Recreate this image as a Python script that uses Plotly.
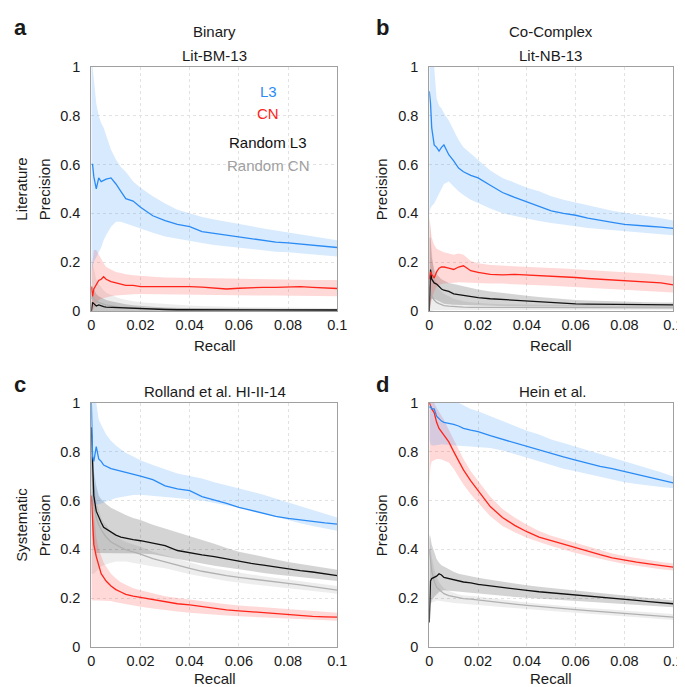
import plotly.graph_objects as go

# ---------------- data ----------------
RECALL = [0, 0.0005, 0.001, 0.002, 0.003, 0.004, 0.005, 0.006, 0.008, 0.01,
          0.012, 0.014, 0.017, 0.02, 0.025, 0.03, 0.035, 0.04, 0.045, 0.05,
          0.055, 0.06, 0.065, 0.07, 0.075, 0.08, 0.085, 0.09, 0.095, 0.1]

X_TICKS = [0, 0.02, 0.04, 0.06, 0.08, 0.1]
X_TICK_LABELS = ["0", "0.02", "0.04", "0.06", "0.08", "0.1"]
Y_TICKS = [0, 0.2, 0.4, 0.6, 0.8, 1.0]
Y_TICK_LABELS = ["0", "0.2", "0.4", "0.6", "0.8", "1"]

SERIES_NAMES = ["L3", "CN", "Random L3", "Random CN"]

# Panel a : Binary / Lit-BM-13
A_L3 = [0.60, 0.60, 0.55, 0.50, 0.545, 0.53, 0.535, 0.54, 0.545, 0.52, 0.49, 0.46, 0.45, 0.425, 0.39, 0.37, 0.355, 0.345, 0.325, 0.318, 0.312, 0.302, 0.295, 0.288, 0.282, 0.279, 0.275, 0.27, 0.265, 0.26]
A_L3_HI = [1.0, 1.0, 0.95, 0.85, 0.80, 0.77, 0.75, 0.72, 0.66, 0.62, 0.59, 0.57, 0.53, 0.505, 0.47, 0.44, 0.415, 0.40, 0.385, 0.375, 0.365, 0.356, 0.345, 0.338, 0.33, 0.322, 0.314, 0.305, 0.298, 0.29]
A_L3_LO = [0.15, 0.18, 0.20, 0.22, 0.24, 0.26, 0.29, 0.31, 0.345, 0.365, 0.365, 0.358, 0.348, 0.338, 0.32, 0.305, 0.295, 0.286, 0.278, 0.27, 0.264, 0.257, 0.252, 0.248, 0.243, 0.24, 0.236, 0.232, 0.228, 0.223]
A_CN = [0.10, 0.06, 0.09, 0.11, 0.125, 0.13, 0.14, 0.13, 0.12, 0.115, 0.11, 0.105, 0.105, 0.10, 0.10, 0.10, 0.102, 0.10, 0.098, 0.095, 0.09, 0.093, 0.096, 0.097, 0.097, 0.099, 0.10, 0.097, 0.094, 0.092]
A_CN_HI = [0.15, 0.22, 0.25, 0.25, 0.23, 0.21, 0.195, 0.18, 0.17, 0.16, 0.155, 0.15, 0.146, 0.143, 0.14, 0.137, 0.136, 0.135, 0.133, 0.132, 0.131, 0.13, 0.13, 0.129, 0.129, 0.128, 0.128, 0.127, 0.127, 0.127]
A_CN_LO = [0.0, 0.0, 0.01, 0.03, 0.045, 0.05, 0.055, 0.056, 0.06, 0.063, 0.065, 0.067, 0.068, 0.07, 0.07, 0.07, 0.069, 0.068, 0.067, 0.066, 0.065, 0.064, 0.064, 0.063, 0.063, 0.062, 0.062, 0.061, 0.061, 0.06]
A_RL3 = [0.0, 0.035, 0.03, 0.02, 0.025, 0.02, 0.018, 0.016, 0.015, 0.014, 0.013, 0.012, 0.01, 0.008, 0.007, 0.006, 0.005, 0.005, 0.004, 0.003, 0.004, 0.004, 0.004, 0.004, 0.004, 0.004, 0.004, 0.004, 0.004, 0.004]
A_RL3_HI = [0.10, 0.10, 0.09, 0.07, 0.06, 0.055, 0.05, 0.045, 0.04, 0.035, 0.03, 0.027, 0.023, 0.02, 0.017, 0.014, 0.012, 0.011, 0.01, 0.01, 0.009, 0.009, 0.009, 0.009, 0.008, 0.008, 0.008, 0.008, 0.008, 0.008]
A_RL3_LO = [0.0] * 30
A_RCN = [0.05, 0.06, 0.05, 0.04, 0.035, 0.03, 0.028, 0.025, 0.02, 0.018, 0.016, 0.014, 0.012, 0.011, 0.01, 0.009, 0.008, 0.008, 0.007, 0.007, 0.006, 0.006, 0.006, 0.006, 0.006, 0.005, 0.005, 0.005, 0.005, 0.005]
A_RCN_HI = [0.22, 0.20, 0.17, 0.13, 0.11, 0.095, 0.085, 0.075, 0.065, 0.057, 0.05, 0.045, 0.04, 0.036, 0.032, 0.028, 0.025, 0.022, 0.02, 0.018, 0.017, 0.016, 0.015, 0.015, 0.014, 0.014, 0.013, 0.013, 0.012, 0.012]
A_RCN_LO = [0.0] * 30

# Panel b : Co-Complex / Lit-NB-13
B_L3 = [0.90, 0.85, 0.75, 0.68, 0.67, 0.655, 0.67, 0.68, 0.64, 0.615, 0.585, 0.57, 0.555, 0.545, 0.515, 0.485, 0.465, 0.447, 0.428, 0.41, 0.40, 0.392, 0.38, 0.37, 0.363, 0.355, 0.35, 0.347, 0.343, 0.338]
B_L3_HI = [1.0, 1.0, 1.0, 1.0, 0.87, 0.84, 0.83, 0.81, 0.78, 0.74, 0.70, 0.67, 0.645, 0.62, 0.575, 0.545, 0.525, 0.505, 0.49, 0.47, 0.455, 0.443, 0.432, 0.42, 0.41, 0.402, 0.395, 0.388, 0.38, 0.37]
B_L3_LO = [0.40, 0.42, 0.43, 0.44, 0.46, 0.48, 0.50, 0.52, 0.53, 0.51, 0.49, 0.475, 0.455, 0.44, 0.42, 0.40, 0.39, 0.378, 0.368, 0.36, 0.352, 0.347, 0.34, 0.335, 0.33, 0.326, 0.322, 0.318, 0.314, 0.31]
B_CN = [0.13, 0.16, 0.15, 0.135, 0.16, 0.175, 0.18, 0.18, 0.175, 0.17, 0.18, 0.185, 0.165, 0.158, 0.15, 0.148, 0.15, 0.148, 0.145, 0.142, 0.14, 0.137, 0.133, 0.13, 0.128, 0.126, 0.123, 0.12, 0.115, 0.107]
B_CN_HI = [0.38, 0.33, 0.30, 0.27, 0.255, 0.25, 0.245, 0.24, 0.235, 0.23, 0.235, 0.23, 0.205, 0.195, 0.188, 0.185, 0.183, 0.18, 0.178, 0.176, 0.174, 0.172, 0.168, 0.165, 0.162, 0.16, 0.156, 0.152, 0.148, 0.143]
B_CN_LO = [0.0, 0.02, 0.05, 0.08, 0.10, 0.105, 0.11, 0.112, 0.115, 0.116, 0.118, 0.118, 0.117, 0.116, 0.113, 0.112, 0.11, 0.108, 0.105, 0.103, 0.10, 0.098, 0.095, 0.093, 0.09, 0.088, 0.085, 0.082, 0.079, 0.076]
B_RL3 = [0.0, 0.17, 0.13, 0.115, 0.11, 0.10, 0.09, 0.085, 0.08, 0.07, 0.067, 0.063, 0.06, 0.055, 0.05, 0.047, 0.045, 0.042, 0.038, 0.033, 0.03, 0.029, 0.028, 0.028, 0.027, 0.027, 0.026, 0.026, 0.025, 0.025]
B_RL3_HI = [0.30, 0.30, 0.22, 0.17, 0.15, 0.14, 0.13, 0.125, 0.115, 0.11, 0.105, 0.10, 0.095, 0.088, 0.08, 0.073, 0.067, 0.062, 0.057, 0.052, 0.048, 0.045, 0.043, 0.041, 0.04, 0.038, 0.037, 0.036, 0.035, 0.035]
B_RL3_LO = [0.0, 0.04, 0.05, 0.05, 0.045, 0.04, 0.035, 0.03, 0.028, 0.025, 0.023, 0.023, 0.022, 0.022, 0.021, 0.02, 0.019, 0.018, 0.017, 0.016, 0.016, 0.016, 0.016, 0.015, 0.015, 0.015, 0.015, 0.015, 0.015, 0.015]
B_RCN = [0.10, 0.08, 0.06, 0.045, 0.035, 0.03, 0.025, 0.022, 0.02, 0.018, 0.016, 0.016, 0.015, 0.015, 0.015, 0.015, 0.015, 0.015, 0.014, 0.014, 0.014, 0.014, 0.014, 0.014, 0.013, 0.013, 0.013, 0.013, 0.013, 0.013]
B_RCN_HI = [0.40, 0.35, 0.25, 0.15, 0.11, 0.09, 0.08, 0.07, 0.06, 0.05, 0.045, 0.04, 0.036, 0.033, 0.03, 0.028, 0.027, 0.026, 0.025, 0.024, 0.023, 0.023, 0.022, 0.022, 0.021, 0.021, 0.021, 0.02, 0.02, 0.02]
B_RCN_LO = [0.0, 0.0, 0.0, 0.003, 0.004, 0.005, 0.005, 0.005, 0.005, 0.005, 0.005, 0.005, 0.005, 0.005, 0.005, 0.005, 0.005, 0.005, 0.005, 0.005, 0.005, 0.005, 0.005, 0.005, 0.005, 0.005, 0.005, 0.005, 0.005, 0.005]

# Panel c : Rolland et al. HI-II-14
C_L3 = [1.0, 0.78, 0.76, 0.82, 0.77, 0.76, 0.745, 0.74, 0.73, 0.725, 0.72, 0.716, 0.71, 0.70, 0.685, 0.66, 0.647, 0.64, 0.616, 0.603, 0.588, 0.572, 0.56, 0.547, 0.535, 0.527, 0.52, 0.514, 0.508, 0.503]
C_L3_HI = [1.0, 1.0, 1.0, 1.0, 0.93, 0.91, 0.89, 0.87, 0.845, 0.825, 0.81, 0.795, 0.78, 0.765, 0.745, 0.727, 0.71, 0.70, 0.69, 0.675, 0.663, 0.65, 0.637, 0.623, 0.607, 0.592, 0.575, 0.56, 0.545, 0.53]
C_L3_LO = [0.58, 0.59, 0.59, 0.585, 0.583, 0.588, 0.593, 0.596, 0.603, 0.61, 0.615, 0.618, 0.622, 0.623, 0.62, 0.615, 0.61, 0.605, 0.60, 0.59, 0.58, 0.57, 0.56, 0.547, 0.535, 0.52, 0.507, 0.495, 0.485, 0.476]
C_CN = [0.62, 0.50, 0.42, 0.37, 0.33, 0.30, 0.285, 0.27, 0.25, 0.235, 0.225, 0.215, 0.208, 0.203, 0.195, 0.185, 0.177, 0.172, 0.165, 0.158, 0.152, 0.148, 0.144, 0.14, 0.137, 0.132, 0.128, 0.125, 0.123, 0.122]
C_CN_HI = [0.65, 0.60, 0.52, 0.45, 0.40, 0.37, 0.345, 0.33, 0.30, 0.28, 0.265, 0.255, 0.24, 0.232, 0.22, 0.208, 0.20, 0.193, 0.186, 0.18, 0.175, 0.17, 0.166, 0.162, 0.158, 0.153, 0.15, 0.146, 0.143, 0.14]
C_CN_LO = [0.20, 0.19, 0.19, 0.19, 0.19, 0.19, 0.19, 0.19, 0.188, 0.183, 0.178, 0.175, 0.17, 0.165, 0.158, 0.15, 0.145, 0.14, 0.135, 0.132, 0.129, 0.126, 0.123, 0.12, 0.118, 0.116, 0.113, 0.111, 0.109, 0.107]
C_RL3 = [0.90, 0.70, 0.62, 0.556, 0.53, 0.51, 0.49, 0.483, 0.47, 0.458, 0.45, 0.445, 0.44, 0.435, 0.425, 0.415, 0.395, 0.385, 0.377, 0.37, 0.36, 0.35, 0.342, 0.335, 0.327, 0.32, 0.313, 0.307, 0.30, 0.292]
C_RL3_HI = [0.90, 0.85, 0.72, 0.66, 0.62, 0.605, 0.596, 0.585, 0.57, 0.56, 0.548, 0.54, 0.528, 0.52, 0.50, 0.485, 0.47, 0.455, 0.44, 0.423, 0.405, 0.39, 0.38, 0.368, 0.358, 0.348, 0.34, 0.333, 0.325, 0.316]
C_RL3_LO = [0.60, 0.45, 0.40, 0.385, 0.383, 0.383, 0.383, 0.383, 0.383, 0.383, 0.383, 0.383, 0.383, 0.383, 0.38, 0.37, 0.36, 0.352, 0.342, 0.333, 0.325, 0.318, 0.31, 0.303, 0.297, 0.29, 0.284, 0.279, 0.275, 0.27]
C_RCN = [0.78, 0.65, 0.58, 0.53, 0.50, 0.48, 0.465, 0.45, 0.43, 0.418, 0.408, 0.398, 0.39, 0.38, 0.362, 0.348, 0.334, 0.322, 0.31, 0.30, 0.292, 0.285, 0.278, 0.272, 0.266, 0.26, 0.254, 0.247, 0.24, 0.233]
C_RCN_HI = [0.85, 0.75, 0.68, 0.60, 0.56, 0.53, 0.51, 0.50, 0.47, 0.455, 0.44, 0.43, 0.42, 0.41, 0.39, 0.375, 0.36, 0.345, 0.333, 0.322, 0.313, 0.305, 0.297, 0.29, 0.283, 0.276, 0.27, 0.263, 0.256, 0.25]
C_RCN_LO = [0.30, 0.30, 0.30, 0.31, 0.32, 0.33, 0.335, 0.34, 0.345, 0.35, 0.35, 0.35, 0.345, 0.34, 0.33, 0.322, 0.31, 0.298, 0.288, 0.279, 0.27, 0.263, 0.257, 0.252, 0.246, 0.24, 0.235, 0.23, 0.224, 0.218]

# Panel d : Hein et al.
D_L3 = [0.98, 0.985, 0.975, 0.975, 0.945, 0.935, 0.925, 0.92, 0.917, 0.912, 0.905, 0.895, 0.888, 0.882, 0.865, 0.85, 0.835, 0.82, 0.805, 0.79, 0.778, 0.765, 0.752, 0.74, 0.73, 0.718, 0.706, 0.695, 0.684, 0.672]
D_L3_HI = [1.0, 1.0, 1.0, 1.0, 1.0, 1.0, 1.0, 1.0, 1.0, 1.0, 1.0, 0.99, 0.975, 0.965, 0.945, 0.925, 0.905, 0.885, 0.87, 0.85, 0.835, 0.82, 0.805, 0.79, 0.775, 0.762, 0.745, 0.73, 0.715, 0.698]
D_L3_LO = [0.85, 0.83, 0.825, 0.825, 0.825, 0.828, 0.83, 0.83, 0.828, 0.826, 0.824, 0.823, 0.822, 0.82, 0.815, 0.805, 0.79, 0.775, 0.76, 0.745, 0.73, 0.72, 0.708, 0.695, 0.685, 0.675, 0.667, 0.66, 0.655, 0.65]
D_CN = [1.0, 0.985, 0.975, 0.96, 0.92, 0.895, 0.88, 0.87, 0.84, 0.80, 0.76, 0.725, 0.68, 0.64, 0.575, 0.53, 0.498, 0.472, 0.45, 0.435, 0.42, 0.405, 0.39, 0.378, 0.365, 0.355, 0.347, 0.34, 0.333, 0.327]
D_CN_HI = [1.0, 1.0, 1.0, 1.0, 0.98, 0.965, 0.95, 0.93, 0.89, 0.85, 0.81, 0.77, 0.72, 0.68, 0.615, 0.565, 0.53, 0.50, 0.475, 0.455, 0.44, 0.425, 0.41, 0.395, 0.383, 0.372, 0.363, 0.355, 0.348, 0.342]
D_CN_LO = [0.66, 0.74, 0.76, 0.765, 0.77, 0.77, 0.768, 0.765, 0.755, 0.73, 0.70, 0.665, 0.625, 0.59, 0.535, 0.495, 0.47, 0.447, 0.43, 0.413, 0.398, 0.385, 0.372, 0.36, 0.35, 0.34, 0.332, 0.325, 0.318, 0.313]
D_RL3 = [0.10, 0.27, 0.28, 0.285, 0.29, 0.30, 0.295, 0.285, 0.28, 0.275, 0.27, 0.266, 0.262, 0.256, 0.25, 0.243, 0.237, 0.232, 0.226, 0.222, 0.218, 0.214, 0.21, 0.206, 0.201, 0.196, 0.191, 0.186, 0.181, 0.177]
D_RL3_HI = [0.46, 0.45, 0.42, 0.39, 0.36, 0.345, 0.335, 0.33, 0.318, 0.308, 0.30, 0.295, 0.29, 0.283, 0.275, 0.267, 0.26, 0.253, 0.247, 0.242, 0.236, 0.232, 0.227, 0.222, 0.217, 0.211, 0.205, 0.20, 0.195, 0.19]
D_RL3_LO = [0.10, 0.17, 0.19, 0.205, 0.215, 0.225, 0.23, 0.232, 0.232, 0.23, 0.228, 0.225, 0.222, 0.22, 0.215, 0.21, 0.205, 0.20, 0.196, 0.193, 0.19, 0.187, 0.184, 0.181, 0.178, 0.175, 0.172, 0.169, 0.166, 0.163]
D_RCN = [0.40, 0.35, 0.31, 0.27, 0.245, 0.235, 0.225, 0.218, 0.21, 0.205, 0.20, 0.198, 0.196, 0.193, 0.188, 0.18, 0.175, 0.17, 0.165, 0.161, 0.157, 0.153, 0.149, 0.145, 0.141, 0.138, 0.134, 0.13, 0.126, 0.122]
D_RCN_HI = [0.46, 0.42, 0.37, 0.32, 0.285, 0.265, 0.25, 0.24, 0.23, 0.222, 0.215, 0.212, 0.21, 0.207, 0.20, 0.193, 0.187, 0.182, 0.177, 0.172, 0.168, 0.164, 0.16, 0.156, 0.152, 0.148, 0.145, 0.141, 0.138, 0.135]
D_RCN_LO = [0.18, 0.18, 0.18, 0.185, 0.19, 0.19, 0.188, 0.185, 0.183, 0.18, 0.178, 0.176, 0.174, 0.172, 0.168, 0.163, 0.159, 0.155, 0.15, 0.147, 0.143, 0.14, 0.136, 0.132, 0.128, 0.124, 0.12, 0.117, 0.114, 0.11]

PANELS = [
    ("a", [("RCN", A_RCN, A_RCN_HI, A_RCN_LO), ("RL3", A_RL3, A_RL3_HI, A_RL3_LO),
           ("CN", A_CN, A_CN_HI, A_CN_LO), ("L3", A_L3, A_L3_HI, A_L3_LO)]),
    ("b", [("RCN", B_RCN, B_RCN_HI, B_RCN_LO), ("RL3", B_RL3, B_RL3_HI, B_RL3_LO),
           ("CN", B_CN, B_CN_HI, B_CN_LO), ("L3", B_L3, B_L3_HI, B_L3_LO)]),
    ("c", [("RCN", C_RCN, C_RCN_HI, C_RCN_LO), ("RL3", C_RL3, C_RL3_HI, C_RL3_LO),
           ("CN", C_CN, C_CN_HI, C_CN_LO), ("L3", C_L3, C_L3_HI, C_L3_LO)]),
    ("d", [("RCN", D_RCN, D_RCN_HI, D_RCN_LO), ("RL3", D_RL3, D_RL3_HI, D_RL3_LO),
           ("CN", D_CN, D_CN_HI, D_CN_LO), ("L3", D_L3, D_L3_HI, D_L3_LO)]),
]

# ---------------- styling ----------------
W, H = 685, 687
FONT = "Liberation Sans, Arial, Helvetica, sans-serif"
LINE_COL = {"L3": "#2a8bf5", "CN": "#ff2419", "RL3": "#111111", "RCN": "#b0b0b0"}
BAND_COL = {"L3": "rgba(60,150,250,0.20)", "CN": "rgba(255,60,60,0.20)",
            "RL3": "rgba(0,0,0,0.17)", "RCN": "rgba(0,0,0,0.07)"}

# plot areas in pixels: (left, right, top, bottom)
BOXES = {"a": (81, 332, 52, 302), "b": (426, 675, 52, 302),
         "c": (81, 332, 396, 646), "d": (426, 675, 396, 646)}

fig = go.Figure()

for i, (key, series) in enumerate(PANELS):
    ax = "" if i == 0 else str(i + 1)
    xa, ya = "x" + ax, "y" + ax
    # bands first
    for name, p, hi, lo in series:
        fig.add_trace(go.Scatter(
            x=RECALL + RECALL[::-1], y=hi + lo[::-1], xaxis=xa, yaxis=ya,
            fill="toself", fillcolor=BAND_COL[name], line=dict(width=0),
            mode="lines", hoverinfo="skip", showlegend=False))
    for name, p, hi, lo in series:
        fig.add_trace(go.Scatter(
            x=RECALL, y=p, xaxis=xa, yaxis=ya, mode="lines",
            line=dict(color=LINE_COL[name], width=1.3), showlegend=False))

    l, r, t, b = BOXES[key]
    common = dict(showline=True, linecolor="#a0a0a0", linewidth=1, mirror=True,
                  showgrid=True, gridcolor="#e2e2e2", griddash="dot", gridwidth=1,
                  zeroline=False, ticks="", tickfont=dict(size=14.5, color="#1a1a1a", family=FONT))
    fig.layout["xaxis" + ax] = dict(
        domain=[l / W, r / W], anchor=ya, range=[0, 0.1],
        tickvals=X_TICKS, ticktext=X_TICK_LABELS, ticklabelstandoff=1, **common)
    fig.layout["yaxis" + ax] = dict(
        domain=[1 - b / H, 1 - t / H], anchor=xa, range=[0, 1],
        tickvals=Y_TICKS, ticktext=Y_TICK_LABELS, ticklabelstandoff=7, **common)

ann = []


def txt(x, y, s, size=15, color="#1a1a1a", bold=False, angle=0, xanchor="center"):
    ann.append(dict(x=x / W, y=1 - y / H, xref="paper", yref="paper", text=s,
                    showarrow=False, textangle=angle, xanchor=xanchor, yanchor="middle",
                    font=dict(size=size, color=color, family=FONT,
                              weight="bold" if bold else "normal")))


# panel letters
txt(0, 12, "a", size=22, bold=True, xanchor="left")
txt(370, 12, "b", size=22, bold=True, xanchor="left")
txt(0, 377, "c", size=22, bold=True, xanchor="left")
txt(370, 377, "d", size=22, bold=True, xanchor="left")

# titles
txt(207, 16, "Binary")
txt(207, 40, "Lit-BM-13")
txt(550, 16, "Co-Complex")
txt(550, 40, "Lit-NB-13")
txt(207, 384, "Rolland et al. HI-II-14")
txt(552, 384, "Hein et al.")

# axis titles
for xc, yc in [(207, 337), (550, 337), (207, 678), (550, 678)]:
    txt(xc, yc, "Recall")
txt(34, 177, "Precision", angle=-90)
txt(10, 177, "Literature", angle=-90)
txt(378, 177, "Precision", angle=-90)
txt(34, 521, "Precision", angle=-90)
txt(10, 521, "Systematic", angle=-90)
txt(378, 521, "Precision", angle=-90)

# legend text inside panel a (data coordinates)
LEGEND_Y = [0.90, 0.808, 0.688, 0.596]
LEGEND_COLORS = ["#2a8bf5", "#ff2419", "#111111", "#a0a0a0"]
for name, yv, col in zip(SERIES_NAMES, LEGEND_Y, LEGEND_COLORS):
    ann.append(dict(x=0.072, y=yv, xref="x", yref="y", text=name, showarrow=False,
                    font=dict(size=15, color=col, family=FONT)))

fig.update_layout(
    width=W, height=H, margin=dict(l=0, r=0, t=0, b=0),
    paper_bgcolor="white", plot_bgcolor="white",
    annotations=ann, showlegend=False,
    font=dict(family=FONT),
)

fig.write_html("out.html")
